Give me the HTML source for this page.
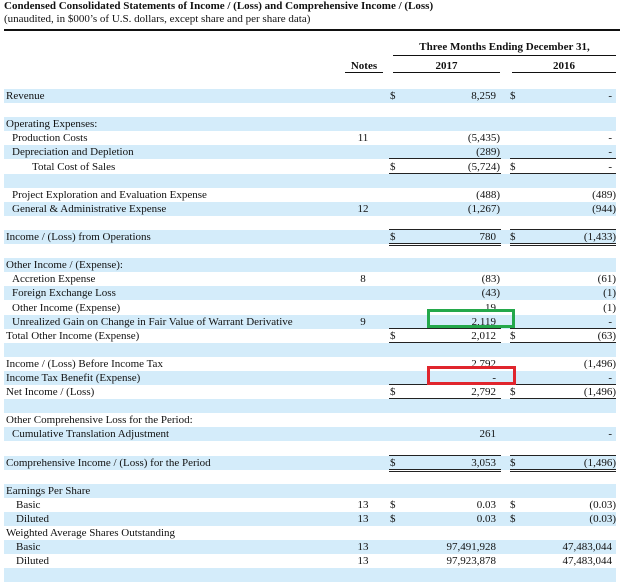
<!DOCTYPE html>
<html><head><meta charset="utf-8">
<style>
body{margin:0;background:#fff;}
#wrap{position:relative;width:624px;height:588px;overflow:hidden;font-family:"Liberation Serif",serif;font-size:11px;color:#111;}
.abs{position:absolute;white-space:nowrap;}
.row{position:absolute;left:4px;width:612px;height:14.1px;}
.shade{background:#d4ecfa;}
.t{position:absolute;line-height:14px;top:0;}
.ln{position:absolute;height:0;border-top:1px solid #222;}
</style></head><body>
<div id="wrap">
<div class="abs" style="left:4px;top:0;font-weight:bold;font-size:11px;">Condensed Consolidated Statements of Income / (Loss) and Comprehensive Income / (Loss)</div>
<div class="abs" style="left:4px;top:13px;font-size:11px;">(unaudited, in $000’s of U.S. dollars, except share and per share data)</div>
<div class="abs" style="left:4px;top:29px;width:616px;border-top:2px solid #111;"></div>
<div class="abs" style="left:393px;width:223px;top:41px;text-align:center;font-weight:bold;">Three Months Ending December 31,</div>
<div class="abs" style="left:393px;top:55px;width:223px;border-top:1px solid #111;"></div>
<div class="abs" style="left:345px;width:38px;top:60px;text-align:center;font-weight:bold;border-bottom:1px solid #111;">Notes</div>
<div class="abs" style="left:393px;width:107px;top:60px;text-align:center;font-weight:bold;border-bottom:1px solid #111;">2017</div>
<div class="abs" style="left:512px;width:104px;top:60px;text-align:center;font-weight:bold;border-bottom:1px solid #111;">2016</div>
<div id="rows"></div>
<div class="abs" style="left:427px;top:309px;width:82px;height:13px;border:3px solid #24a84b;"></div>
<div class="abs" style="left:427px;top:366px;width:83px;height:13px;border:3px solid #e0252d;"></div>
</div>
<script>
const labels=["Revenue","","Operating Expenses:","Production Costs","Depreciation and Depletion","Total Cost of Sales","","Project Exploration and Evaluation Expense","General & Administrative Expense","","Income / (Loss) from Operations","","Other Income / (Expense):","Accretion Expense","Foreign Exchange Loss","Other Income (Expense)","Unrealized Gain on Change in Fair Value of Warrant Derivative","Total Other Income (Expense)","","Income / (Loss) Before Income Tax","Income Tax Benefit (Expense)","Net Income / (Loss)","","Other Comprehensive Loss for the Period:","Cumulative Translation Adjustment","","Comprehensive Income / (Loss) for the Period","","Earnings Per Share","Basic","Diluted","Weighted Average Shares Outstanding","Basic","Diluted",""];
const indents=[0,0,0,1,1,3,0,1,1,0,0,0,0,1,1,1,1,0,0,0,0,0,0,0,1,0,0,0,0,2,2,0,2,2,0];
const notes=["","","","11","","","","","12","","","","","8","","","9","","","","","","","","","","","","","13","13","","13","13",""];
const dollar1=[1,0,0,0,0,1,0,0,0,0,1,0,0,0,0,0,0,1,0,0,0,1,0,0,0,0,1,0,0,1,1,0,0,0,0];
const dollar2=[1,0,0,0,0,1,0,0,0,0,1,0,0,0,0,0,0,1,0,0,0,1,0,0,0,0,1,0,0,1,1,0,0,0,0];
const values2017=["8,259","","","(5,435)","(289)","(5,724)","","(488)","(1,267)","","780","","","(83)","(43)","19","2,119","2,012","","2,792","-","2,792","","","261","","3,053","","","0.03","0.03","","97,491,928","97,923,878",""];
const values2016=["-","","","-","-","-","","(489)","(944)","","(1,433)","","","(61)","(1)","(1)","-","(63)","","(1,496)","-","(1,496)","","","-","","(1,496)","","","(0.03)","(0.03)","","47,483,044","47,483,044",""];
const bottomLines=[0,0,0,0,1,1,0,0,0,0,2,0,0,0,0,0,1,1,0,0,1,2,0,0,0,0,2,0,0,0,0,0,0,0,0];
const topLines=[0,0,0,0,0,0,0,0,0,1,0,0,0,0,0,0,0,0,0,0,0,0,0,0,0,1,0,0,0,0,0,0,0,0,0];
const host=document.getElementById('rows');
const ROW0=89, RH=14.1;
const indentPx=[2,8,12,28];
labels.forEach((lab,i)=>{
  const r=document.createElement('div');
  r.className='row'+(i%2===0?' shade':'');
  r.style.top=(ROW0+i*RH)+'px';
  
  
  let h='';
  if(lab) h+='<span class="t" style="left:'+indentPx[indents[i]]+'px">'+lab.replace('&','&amp;')+'</span>';
  if(notes[i]) h+='<span class="t" style="left:340px;width:38px;text-align:center">'+notes[i]+'</span>';
  if(dollar1[i]) h+='<span class="t" style="left:386px">$</span>';
  if(values2017[i]) h+='<span class="t" style="right:'+(612-492)+'px;'+(/\)$/.test(values2017[i])?'margin-right:-4px':'')+'">'+values2017[i]+'</span>';
  if(dollar2[i]) h+='<span class="t" style="left:506px">$</span>';
  if(values2016[i]) h+='<span class="t" style="right:'+(/\)$/.test(values2016[i])?0:4)+'px">'+values2016[i]+'</span>';
  r.innerHTML=h;
  host.appendChild(r);
  const addLine=(y)=>{
    [[385,112],[506,106]].forEach(c=>{
      const l=document.createElement('div');
      l.className='ln';
      l.style.left=c[0]+'px';l.style.width=c[1]+'px';l.style.top=y+'px';
      
      
      r.appendChild(l);
    });
  };
  if(bottomLines[i]>=1) addLine(13);
  if(bottomLines[i]===2) addLine(15);
  if(topLines[i]) addLine(13);
});
</script>
</body></html>
